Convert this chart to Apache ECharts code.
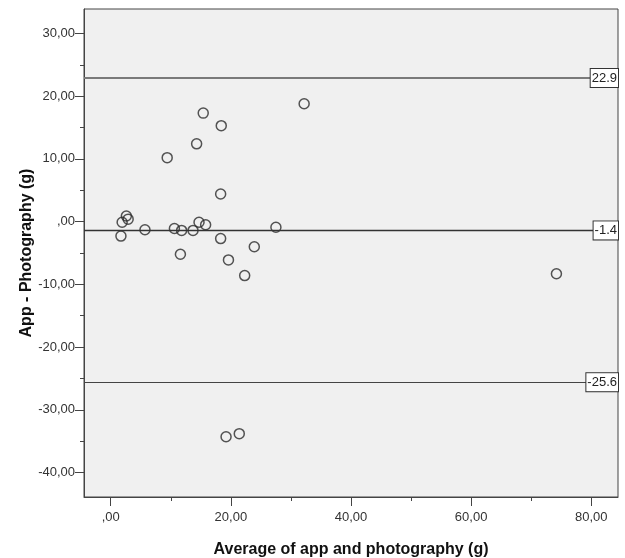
<!DOCTYPE html>
<html>
<head>
<meta charset="utf-8">
<title>Bland-Altman plot</title>
<script src="https://cdn.jsdelivr.net/npm/echarts@6/dist/echarts.min.js"></script>
<style>
  html, body { margin: 0; padding: 0; background: #ffffff; }
  #chart { width: 625px; height: 558px; }
</style>
</head>
<body>
<div id="chart"></div>
<script>
// Average of the two methods (g) for each item
const averageG = [9.4, 14.3, 15.4, 18.4, 32.2, 18.3, 1.7, 1.9, 2.6, 2.9, 5.7, 10.6, 11.8,
                  11.6, 13.7, 14.7, 15.8, 18.3, 19.6, 23.9, 27.5, 22.3, 19.2, 21.4, 74.2];
// Difference app minus photography (g)
const differenceG = [10.2, 12.4, 17.3, 15.3, 18.8, 4.4, -2.3, -0.1, 0.9, 0.4, -1.3, -1.1, -1.4,
                     -5.2, -1.4, -0.1, -0.5, -2.7, -6.1, -4.0, -0.9, -8.6, -34.3, -33.8, -8.3];
// Upper limit of agreement, mean difference, lower limit of agreement
const limitValues = [22.9, -1.4, -25.6];

// Axis ticks and their labels
const xTickValues = [0, 20, 40, 60, 80];
const xTickLabels = [',00', '20,00', '40,00', '60,00', '80,00'];
const xMinorTicks = [10, 30, 50, 70];
const yTickValues = [30, 20, 10, 0, -10, -20, -30, -40];
const yTickLabels = ['30,00', '20,00', '10,00', ',00', '-10,00', '-20,00', '-30,00', '-40,00'];
const yMinorTicks = [25, 15, 5, -5, -15, -25, -35];

const X_MIN = -4.45, X_MAX = 84.45;
const Y_MIN = -43.9, Y_MAX = 33.9;

const FONT = '"Liberation Sans", Arial, sans-serif';
const AXIS_COLOR = '#444444';

function labelFor(values, labels) {
  return function (v) {
    const i = values.findIndex(t => Math.abs(t - v) < 1e-6);
    return i >= 0 ? labels[i] : '';
  };
}

const points = averageG.map((x, i) => [x, differenceG[i]]);

const limitStyles = [
  { color: '#7a7a7a', width: 2 },
  { color: '#333333', width: 1.3 },
  { color: '#444444', width: 1 }
];

const chart = echarts.init(document.getElementById('chart'), null, { renderer: 'canvas' });

chart.setOption({
  animation: false,
  backgroundColor: '#ffffff',
  textStyle: { fontFamily: FONT },
  grid: {
    left: 84, right: 7, top: 9, bottom: 61,
    containLabel: false,
    outerBoundsMode: 'none',
    show: true,
    backgroundColor: '#f0f0f0',
    borderColor: AXIS_COLOR,
    borderWidth: 1
  },
  xAxis: [
    {
      type: 'value',
      min: X_MIN, max: X_MAX,
      name: 'Average of app and photography (g)',
      nameLocation: 'middle',
      nameGap: 45,
      nameTextStyle: { fontFamily: FONT, fontWeight: 'bold', fontSize: 16, color: '#111111' },
      axisLine: { show: true, onZero: false, lineStyle: { color: AXIS_COLOR, width: 1 } },
      axisTick: { show: true, length: 9, customValues: xTickValues, lineStyle: { color: AXIS_COLOR } },
      axisLabel: {
        customValues: xTickValues,
        formatter: labelFor(xTickValues, xTickLabels),
        fontSize: 13, color: '#333333', margin: 14
      },
      splitLine: { show: false }
    },
    {
      type: 'value',
      position: 'bottom',
      min: X_MIN, max: X_MAX,
      axisLine: { show: false, onZero: false },
      axisTick: { show: true, length: 4, customValues: xMinorTicks, lineStyle: { color: AXIS_COLOR } },
      axisLabel: { show: false },
      splitLine: { show: false }
    }
  ],
  yAxis: [
    {
      type: 'value',
      min: Y_MIN, max: Y_MAX,
      name: 'App - Photography (g)',
      nameLocation: 'middle',
      nameGap: 49,
      nameMoveOverlap: false,
      nameTextStyle: { fontFamily: FONT, fontWeight: 'bold', fontSize: 16, color: '#111111' },
      axisLine: { show: true, onZero: false, lineStyle: { color: AXIS_COLOR, width: 1 } },
      axisTick: { show: true, length: 9, customValues: yTickValues, lineStyle: { color: AXIS_COLOR } },
      axisLabel: {
        customValues: yTickValues,
        formatter: labelFor(yTickValues, yTickLabels),
        fontSize: 13, color: '#333333', margin: 9
      },
      splitLine: { show: false }
    },
    {
      type: 'value',
      position: 'left',
      min: Y_MIN, max: Y_MAX,
      axisLine: { show: false, onZero: false },
      axisTick: { show: true, length: 4, customValues: yMinorTicks, lineStyle: { color: AXIS_COLOR } },
      axisLabel: { show: false },
      splitLine: { show: false }
    }
  ],
  series: [
    {
      type: 'scatter',
      xAxisIndex: 0,
      yAxisIndex: 0,
      data: points,
      symbol: 'circle',
      symbolSize: 10,
      itemStyle: { color: 'rgba(0,0,0,0)', borderColor: '#2a2a2a', borderWidth: 1.5 },
      emphasis: { disabled: true },
      markLine: {
        silent: true,
        symbol: ['none', 'none'],
        animation: false,
        label: {
          show: true,
          position: 'insideEnd',
          distance: 0,
          formatter: p => String(p.value),
          fontFamily: FONT,
          fontSize: 13,
          color: '#222222',
          backgroundColor: '#ffffff',
          borderColor: '#333333',
          borderWidth: 1,
          padding: [3, 1, 2, 1]
        },
        data: limitValues.map((v, i) => ({
          yAxis: v,
          lineStyle: { type: 'solid', color: limitStyles[i].color, width: limitStyles[i].width }
        }))
      }
    }
  ]
});
</script>
</body>
</html>
